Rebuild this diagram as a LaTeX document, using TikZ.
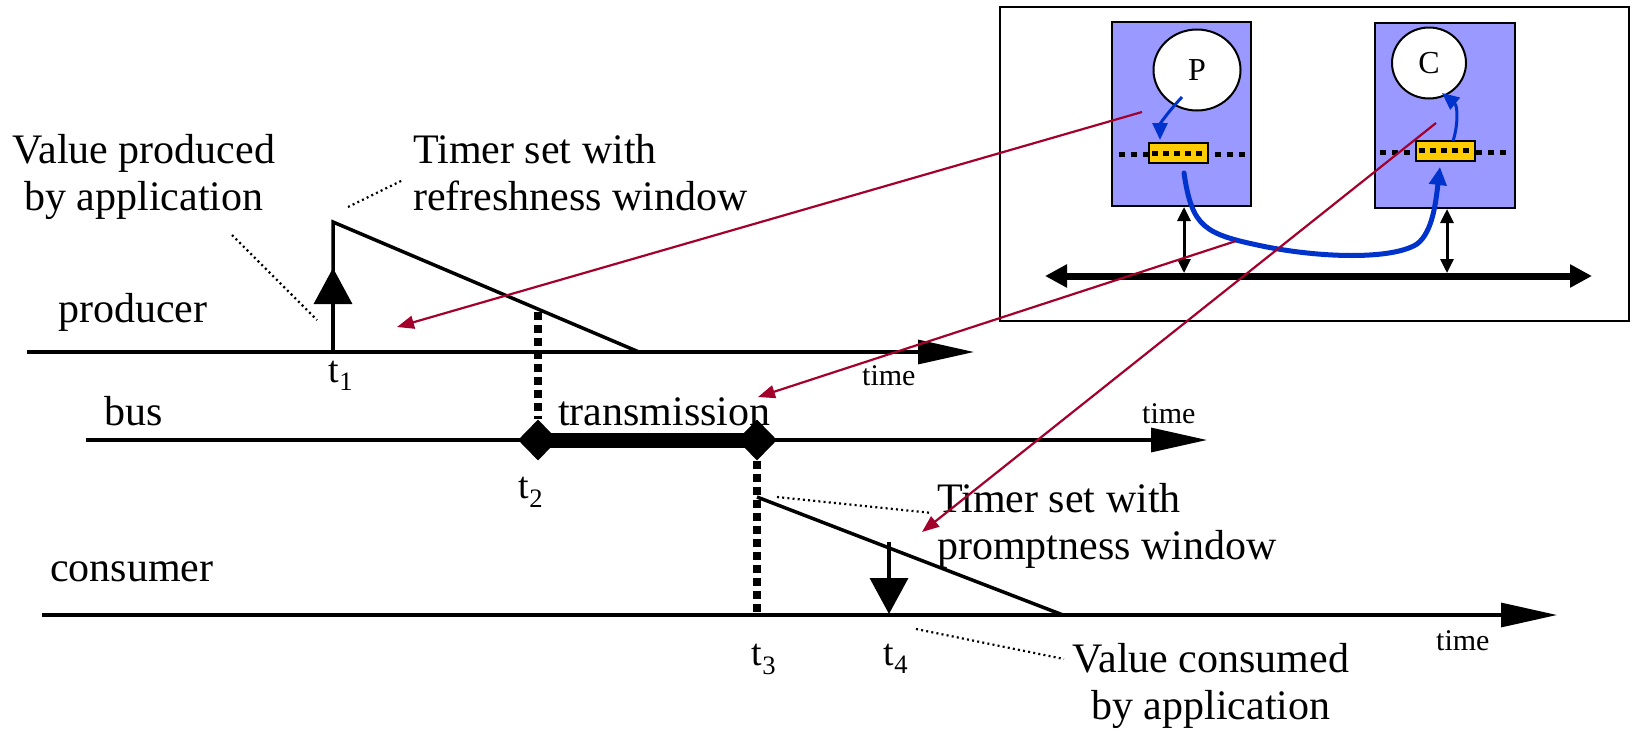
\documentclass[tikz,border=0pt]{standalone}
\usepackage{fontspec}
\setmainfont{Liberation Serif}
\usetikzlibrary{arrows.meta,shapes.geometric,calc}

\definecolor{boxblue}{HTML}{9999FF}
\definecolor{flowblue}{HTML}{0033CC}
\definecolor{bufyellow}{HTML}{FFCC00}
\definecolor{pointred}{HTML}{A3002B}

\begin{document}
\begin{tikzpicture}[x=1pt,y=-1pt,
  lbl/.style={inner sep=0pt,font=\fontsize{42}{47}\selectfont},
  timelbl/.style={inner sep=0pt,font=\fontsize{30}{34}\selectfont,anchor=base west},
  tlbl/.style={inner sep=0pt,font=\fontsize{38}{42}\selectfont,anchor=base},
  axis/.style={line width=3.2pt,-{Triangle[length=56pt,width=24pt]}},
  ramp/.style={line width=3.5pt},
  leader/.style={line width=2.2pt,dash pattern=on 2pt off 3.2pt},
  marker/.style={line width=8pt,dash pattern=on 8pt off 5pt},
  eventup/.style={line width=3.5pt,-{Triangle[length=36pt,width=38pt]}},
  diam/.style={diamond,fill=black,inner sep=0pt,minimum width=40pt,minimum height=41pt},
  station/.style={draw=black,fill=boxblue,line width=2pt,inner sep=0pt},
  proc/.style={ellipse,draw=black,fill=white,line width=2pt,inner sep=0pt,font=\fontsize{32}{36}\selectfont},
  buffer/.style={draw=black,fill=bufyellow,line width=2pt,inner sep=0pt,minimum width=59pt,minimum height=20pt},
  slots/.style={line width=5pt,dash pattern=on 6pt off 6pt},
  bufslots/.style={line width=5pt,dash pattern=on 6pt off 5pt},
  flow/.style={flowblue,line width=3pt,-{Triangle[length=17pt,width=15pt]}},
  bigflow/.style={flowblue,line width=5pt,line cap=round,-{Triangle[length=18pt,width=17pt]}},
  fieldbus/.style={line width=7pt,{Triangle[length=22pt,width=22pt]}-{Triangle[length=22pt,width=22pt]}},
  tap/.style={line width=3pt,{Triangle[length=14pt,width=13pt]}-{Triangle[length=14pt,width=13pt]}},
  redptr/.style={draw=pointred,line width=2.2pt,-{Triangle[length=17pt,width=13pt]}}
]
\useasboundingbox (0,0) rectangle (1632,731);

% ---------- time axes ----------
\coordinate (p0) at (27,352);   \coordinate (p1) at (974,352);
\coordinate (b0) at (86,440);   \coordinate (b1) at (1207,440);
\coordinate (c0) at (42,615);   \coordinate (c1) at (1557,615);
\draw[axis] (p0) -- (p1);
\draw[axis] (b0) -- (b1);
\draw[axis] (c0) -- (c1);

\node[lbl,anchor=base west] (prodname) at (58,322) {producer};
\node[lbl,anchor=base west] (busname)  at (104,425) {bus};
\node[lbl,anchor=base west] (consname) at (50,581) {consumer};
\node[timelbl] (ptime) at (862,385) {time};
\node[timelbl] (btime) at (1142,423) {time};
\node[timelbl] (ctime) at (1436,650) {time};

% ---------- producer: value written, refreshness timer ----------
\coordinate (t1) at (333,352);
\coordinate (r1) at (333,222);
\coordinate (r1e) at (639,352);
\coordinate (t1tip) at (333,268);
\draw[ramp] (t1) -- (r1) -- (r1e);
\draw[eventup] (t1) -- (t1tip);
\node[tlbl] (t1l) at (341,382) {t\textsubscript{1}};

% ---------- bus: transmission ----------
\node[diam] (d2) at (538,440) {};
\node[diam] (d3) at (757,440) {};
\draw[line width=15pt] (d2.center) -- (d3.center);
\coordinate (m2) at (538,312);
\draw[marker] (m2) -- (d2.north);
\coordinate (m3) at (757,615);
\draw[marker] (d3.south) -- (m3);
\node[lbl,anchor=base west] (trans) at (558,425) {transmission};
\node[tlbl] (t2l) at (531,498) {t\textsubscript{2}};
\node[tlbl] (t3l) at (764,665) {t\textsubscript{3}};

% ---------- consumer: promptness timer, value read ----------
\coordinate (r3) at (757,497);
\coordinate (r3e) at (1063,615);
\draw[ramp] (r3) -- (r3e);
\coordinate (t4top) at (889,542);
\coordinate (t4) at (889,614);
\draw[eventup] (t4top) -- (t4);
\node[tlbl] (t4l) at (896,665) {t\textsubscript{4}};

% ---------- annotations ----------
\node[lbl,anchor=north,align=center] (vprod) at (144,134)
  {Value produced\\by application};
\node[lbl,anchor=north west,align=left] (trefr) at (413,134)
  {Timer set with\\refreshness window};
\node[lbl,anchor=north west,align=left] (tprom) at (937,483)
  {Timer set with\\promptness window};
\node[lbl,anchor=north,align=center] (vcons) at (1211,643)
  {Value consumed\\by application};

\coordinate (lpa) at (232,235); \coordinate (lpb) at (317,320);
\coordinate (lra) at (348,207); \coordinate (lrb) at (403,180);
\coordinate (lqa) at (777,497); \coordinate (lqb) at (932,513);
\coordinate (lca) at (916,629); \coordinate (lcb) at (1064,659);
\draw[leader] (lpa) -- (lpb);
\draw[leader] (lra) -- (lrb);
\draw[leader] (lqa) -- (lqb);
\draw[leader] (lca) -- (lcb);

% ---------- architecture inset ----------
\draw[line width=2pt] (1000,7) rectangle (1629,321);

\node[station,minimum width=139pt,minimum height=184pt] (pbox) at (1181.5,114) {};
\node[station,minimum width=140pt,minimum height=185pt] (cbox) at (1445,115.5) {};

\node[proc,minimum width=87pt,minimum height=81pt] (pproc) at (1197,70) {P};
\node[proc,minimum width=74pt,minimum height=71pt] (cproc) at (1429,63) {C};

% communication layer inside each station
\coordinate (pl0) at (1119,154); \coordinate (pl1) at (1246,154);
\coordinate (cl0) at (1380,152); \coordinate (cl1) at (1508,152);
\draw[slots] (pl0) -- (pl1);
\draw[slots] (cl0) -- (cl1);
\node[buffer] (pbuf) at (1178.5,153) {};
\node[buffer] (cbuf) at (1445.5,150.5) {};
\draw[bufslots] ([xshift=4pt]pbuf.west) -- ([xshift=-2pt]pbuf.east);
\draw[bufslots] ([xshift=4pt]cbuf.west) -- ([xshift=-2pt]cbuf.east);

% field bus and station taps
\coordinate (fb0) at (1045,276); \coordinate (fb1) at (1592,276);
\draw[fieldbus] (fb0) -- (fb1);
\coordinate (tapP) at (1184,273);
\coordinate (tapC) at (1447,273);
\draw[tap] (pbox.south -| tapP) -- (tapP);
\draw[tap] (cbox.south -| tapC) -- (tapC);

% data flow producer -> buffer -> bus -> buffer -> consumer
\coordinate (pout) at (1182,97);
\coordinate (pin) at (1160,140);
\draw[flow] (pout) .. controls (1168,112) and (1160,124) .. (pin);
\coordinate (cout) at (1453,141);
\coordinate (cin) at (1442,93);
\draw[flow] (cout) .. controls (1458,126) and (1458,106) .. (cin);
\coordinate (fstart) at (1184,173);
\coordinate (fend) at (1440,167);
\draw[bigflow] (fstart) .. controls (1192,228) and (1205,234) .. (1262,246)
  .. controls (1320,258) and (1392,260) .. (1417,244)
  .. controls (1433,232) and (1436,200) .. (fend);

% ---------- pointers from the inset to the time lines ----------
\coordinate (s1) at (1142,112); \coordinate (e1) at (397,327);
\coordinate (s2) at (1236,241); \coordinate (e2) at (758,397);
\coordinate (s3) at (1436,123); \coordinate (e3) at (922,532);
\draw[redptr] (s1) -- (e1);
\draw[redptr] (s2) -- (e2);
\draw[redptr] (s3) -- (e3);
\end{tikzpicture}
\end{document}
